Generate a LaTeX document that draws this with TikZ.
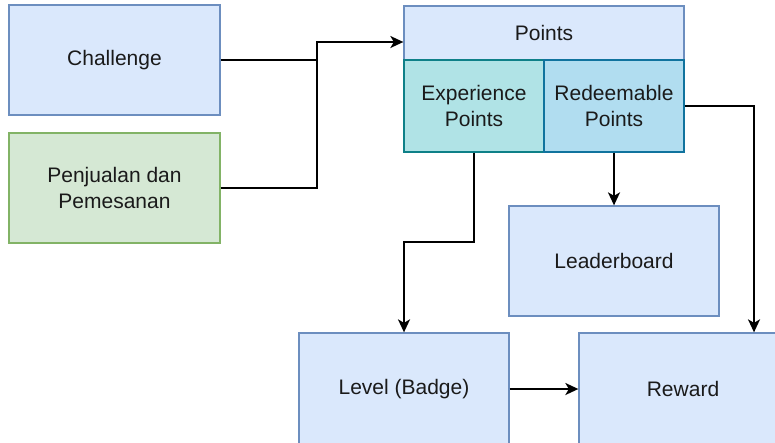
\documentclass[tikz,border=0pt]{standalone}
\usepackage{fontspec}
\setmainfont{Liberation Sans}
\usetikzlibrary{arrows.meta,calc}
\definecolor{blueFill}{HTML}{DAE8FC}
\definecolor{blueLine}{HTML}{6C8EBF}
\definecolor{greenFill}{HTML}{D5E8D4}
\definecolor{greenLine}{HTML}{82B366}
\definecolor{tealFill}{HTML}{B0E3E6}
\definecolor{tealLine}{HTML}{0E8088}
\definecolor{skyFill}{HTML}{B1DDF0}
\definecolor{skyLine}{HTML}{10739E}
\definecolor{ink}{HTML}{1A1A1A}
\tikzset{
  box/.style={draw=blueLine, fill=blueFill, line width=1.3pt, inner sep=0pt,
    align=center, text=ink, font=\fontsize{21}{26}\selectfont},
  greenbox/.style={box, draw=greenLine, fill=greenFill},
  expbox/.style={box, draw=tealLine, fill=tealFill},
  redbox/.style={box, draw=skyLine, fill=skyFill},
  link/.style={line width=2pt, draw=black},
  arrow/.style={link, -{Stealth[length=13pt,width=12pt,inset=3.5pt]}}
}
\begin{document}
\begin{tikzpicture}[x=1pt,y=-1pt]
\useasboundingbox (0,0) rectangle (775,442);
\clip (0,0) rectangle (775,442);

% source boxes
\node[box, minimum width=211pt, minimum height=110pt] (ch) at (114.5,60) {Challenge};
\node[greenbox, minimum width=211pt, minimum height=110pt] (pj) at (114.5,188) {Penjualan dan\\Pemesanan};

% points group
\node[box, minimum width=280pt, minimum height=54pt] (pts) at (544,33) {Points};
\node[expbox, minimum width=140pt, minimum height=92pt] (exp) at (474,106) {Experience\\Points};
\node[redbox, minimum width=140pt, minimum height=92pt] (red) at (614,106) {Redeemable\\Points};

% outputs
\node[box, minimum width=210pt, minimum height=110pt] (lb) at (614,261) {Leaderboard};
\node[box, minimum width=210pt, minimum height=112pt] (lvl) at (404,389) {Level (Badge)};
\node[box, minimum width=208pt, minimum height=112pt] (rw) at (683,389) {Reward};

% routing points
\coordinate (j) at (317,42);
\coordinate (bend) at (0,242);
\coordinate (xr) at (754,0);

% connectors
\draw[link] (ch.east) -- (ch.east -| j);
\draw[arrow] (pj.east) -| (j) -- (pts.west |- j);
\draw[arrow] (exp.south) -- (exp.south |- bend) -| (lvl.north);
\draw[arrow] (red.south) -- (lb.north);
\draw[arrow] (red.east) -| (rw.north -| xr);
\draw[arrow] (lvl.east) -- (rw.west);
\end{tikzpicture}
\end{document}
